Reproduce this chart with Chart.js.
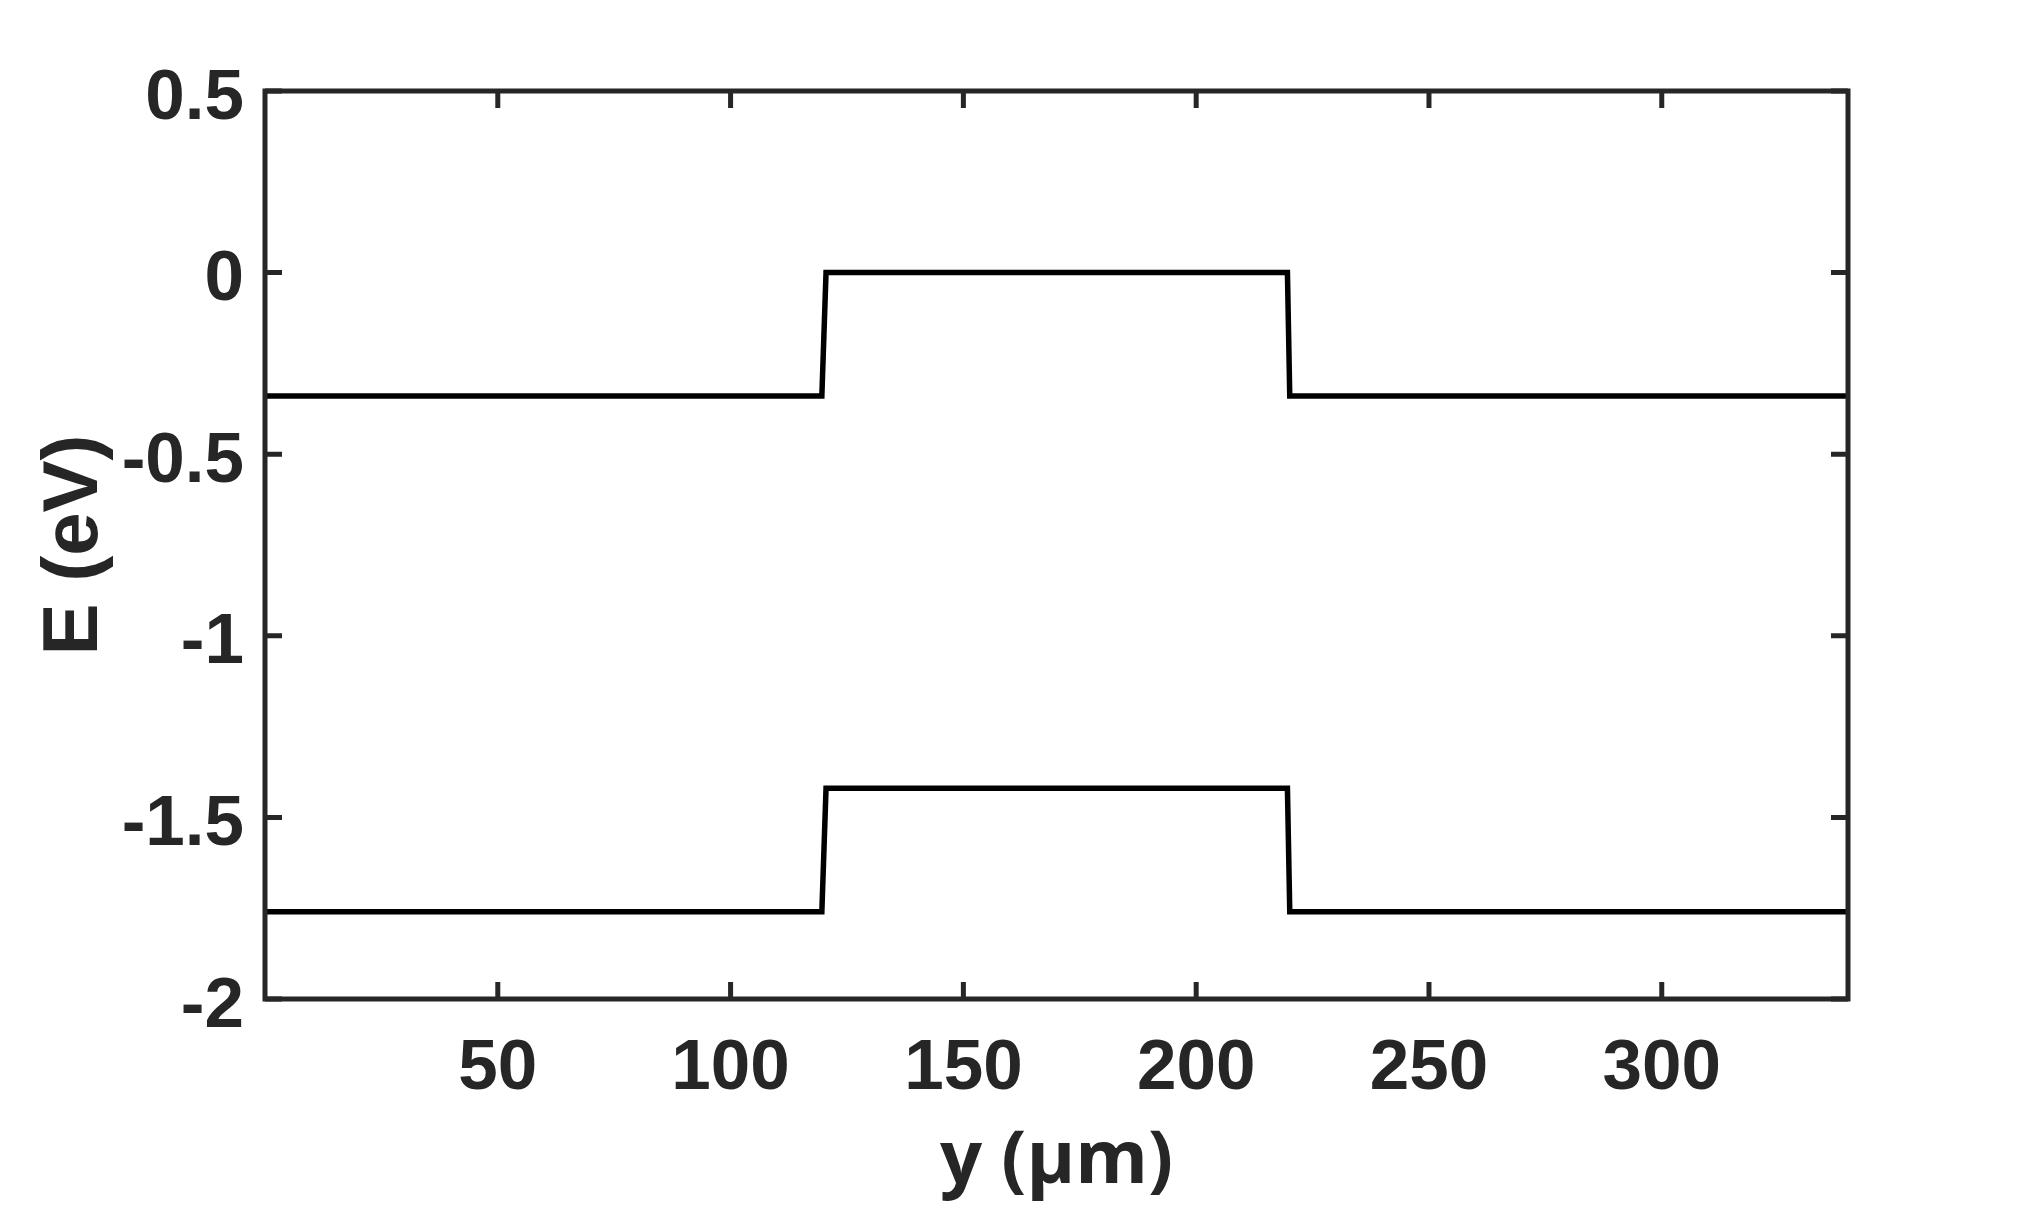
<!DOCTYPE html>
<html>
<head>
<meta charset="utf-8">
<script src="https://cdn.jsdelivr.net/npm/chart.js@4"></script>
<style>
  html, body { margin: 0; padding: 0; background: #fff; }
  canvas { display: block; }
</style>
</head>
<body>
<canvas id="chart" width="2042" height="1206"></canvas>
<script>
// band edges along y (µm)
const yPositions = [0, 119.6, 120.5, 219.6, 220.1, 340];
const conductionBand = [-0.34, -0.34, 0, 0, -0.34, -0.34];
const valenceBand = [-1.76, -1.76, -1.42, -1.42, -1.76, -1.76];

const xTicks = [50, 100, 150, 200, 250, 300];
const yTicks = [-2, -1.5, -1, -0.5, 0, 0.5];

const axisColor = "#262626";

function toPoints(values) {
  return values.map((v, i) => ({ x: yPositions[i], y: v }));
}

// box around the plot with inward ticks on every side (MATLAB look)
const framePlugin = {
  id: "frame",
  afterDatasetsDraw(chart) {
    const { ctx, chartArea: a, scales } = chart;
    const len = 17;
    ctx.save();
    ctx.strokeStyle = axisColor;
    ctx.lineWidth = 5;
    ctx.lineCap = "butt";
    ctx.beginPath();
    xTicks.forEach(t => {
      const px = scales.x.getPixelForValue(t);
      ctx.moveTo(px, a.bottom); ctx.lineTo(px, a.bottom - len);
      ctx.moveTo(px, a.top); ctx.lineTo(px, a.top + len);
    });
    yTicks.forEach(t => {
      const py = scales.y.getPixelForValue(t);
      ctx.moveTo(a.left, py); ctx.lineTo(a.left + len, py);
      ctx.moveTo(a.right, py); ctx.lineTo(a.right - len, py);
    });
    ctx.stroke();
    ctx.lineJoin = "miter";
    ctx.strokeRect(a.left, a.top, a.right - a.left, a.bottom - a.top);
    ctx.restore();
  }
};

new Chart(document.getElementById("chart"), {
  type: "line",
  data: {
    datasets: [
      { data: toPoints(conductionBand), borderColor: "#000", borderWidth: 5.5, pointRadius: 0, tension: 0 },
      { data: toPoints(valenceBand), borderColor: "#000", borderWidth: 5.5, pointRadius: 0, tension: 0 }
    ]
  },
  options: {
    responsive: false,
    animation: false,
    devicePixelRatio: 1,
    layout: { padding: { top: 91, right: 194, left: 0, bottom: 0 } },
    plugins: { legend: { display: false }, tooltip: { enabled: false } },
    scales: {
      x: {
        type: "linear",
        min: 0,
        max: 340,
        grid: { display: false },
        border: { display: false },
        afterBuildTicks: scale => { scale.ticks = xTicks.map(v => ({ value: v })); },
        afterFit: scale => { scale.height = 207; },
        ticks: {
          padding: 20,
          maxRotation: 0,
          color: axisColor,
          font: { family: "Liberation Sans", weight: "bold", size: 71 }
        },
        title: {
          display: true,
          text: "y (µm)",
          color: axisColor,
          padding: { top: 0, bottom: 0 },
          font: { family: "Open Sans", weight: "bold", size: 74 }
        }
      },
      y: {
        type: "linear",
        min: -2,
        max: 0.5,
        grid: { display: false },
        border: { display: false },
        afterBuildTicks: scale => { scale.ticks = yTicks.map(v => ({ value: v })); },
        afterFit: scale => { scale.width = 265; },
        ticks: {
          padding: 13,
          labelOffset: 8,
          color: axisColor,
          callback: v => String(v),
          font: { family: "Liberation Sans", weight: "bold", size: 71 }
        },
        title: {
          display: true,
          text: "E (eV)",
          color: axisColor,
          padding: { top: 29, bottom: 0 },
          font: { family: "Liberation Sans", weight: "bold", size: 78 }
        }
      }
    }
  },
  plugins: [framePlugin]
});
</script>
</body>
</html>
